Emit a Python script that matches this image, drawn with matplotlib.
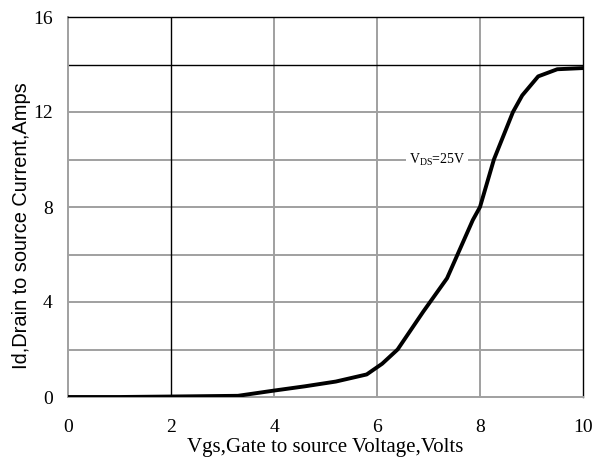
import numpy as np
import matplotlib
matplotlib.use("Agg")
import matplotlib.pyplot as plt

# Transfer curve, Vds = 25 V
vgs = [0.0, 1.0, 2.0, 3.3, 4.0, 4.6, 5.2, 5.8, 6.1, 6.4, 6.9, 7.36,
       7.86, 8.0, 8.27, 8.64, 8.82, 9.13, 9.5, 10.0]
id_amps = [0.0, 0.0, 0.02, 0.05, 0.27, 0.45, 0.65, 0.95, 1.4, 2.0, 3.6, 5.0,
           7.45, 8.0, 10.0, 12.0, 12.7, 13.5, 13.8, 13.85]

x_ticks = [0, 2, 4, 6, 8, 10]
y_ticks = [0, 4, 8, 12, 16]
y_grid = [2, 4, 6, 8, 10, 12]
x_grid = [4, 6, 8]

plt.rcParams['font.family'] = ['Liberation Serif', 'DejaVu Serif']
plt.rcParams['mathtext.fontset'] = 'custom'
plt.rcParams['mathtext.rm'] = 'Liberation Serif'

fig = plt.figure(figsize=(5.95, 4.67), dpi=100)
ax = fig.add_axes([68 / 595, 1 - 397 / 467, (583 - 68) / 595, (397 - 17) / 467])

grid_col = "#a0a0a0"
for gx in x_grid:
    ax.axvline(gx, color=grid_col, lw=1.4, zorder=1)
for gy in y_grid:
    ax.axhline(gy, color=grid_col, lw=1.4, zorder=1)
# darker lines
ax.axvline(2, color="black", lw=1.0, zorder=1)
ax.axhline(14, color="black", lw=1.0, zorder=1)

ax.plot(vgs, id_amps, color="black", lw=2.8, zorder=3, solid_capstyle="round")

ax.text(7.17, 10, r"V$_{\rm DS}$=25V", fontsize=10, ha="center", va="center",
        bbox=dict(facecolor="white", edgecolor="none", pad=2), zorder=2)

ax.set_xlim(0, 10)
ax.set_ylim(0, 16)
ax.set_xticks(x_ticks)
ax.set_yticks(y_ticks)
ax.tick_params(length=0, labelsize=14)
ax.tick_params(axis="x", pad=16)
ax.tick_params(axis="y", pad=11)

for side in ["left", "bottom"]:
    ax.spines[side].set_color(grid_col)
    ax.spines[side].set_linewidth(1.4)
for side in ["top", "right"]:
    ax.spines[side].set_color("black")
    ax.spines[side].set_linewidth(1.0)

ax.set_xlabel("Vgs,Gate to source Voltage,Volts", fontsize=15, labelpad=1)
ax.set_ylabel("Id,Drain to source Current,Amps", fontsize=14.4,
              family=["Liberation Sans", "DejaVu Sans"])
ax.yaxis.set_label_coords(-0.072, 0.452)

fig.savefig("out.png", dpi=100)
